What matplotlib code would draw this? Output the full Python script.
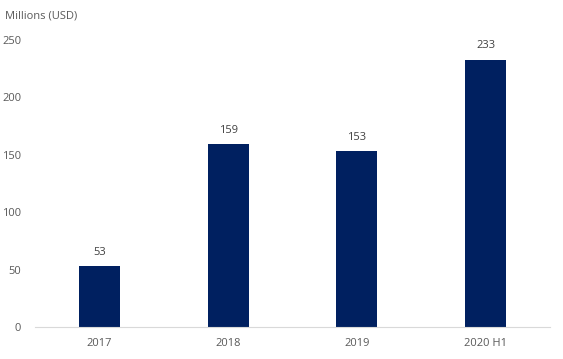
import matplotlib.pyplot as plt

categories = ["2017", "2018", "2019", "2020 H1"]
values = [53, 159, 153, 233]
yticks = [0, 50, 100, 150, 200, 250]

plt.rcParams['font.family'] = ['Open Sans', 'DejaVu Sans']

fig = plt.figure(figsize=(5.63, 3.59), dpi=100)
ax = fig.add_axes([35 / 563, 32 / 359, 515 / 563, 287 / 359])

x = range(len(categories))
bars = ax.bar(x, values, width=0.32, color="#002060", zorder=2)

for b, v in zip(bars, values):
    ax.text(b.get_x() + b.get_width() / 2, v + 7, str(v), ha="center", va="bottom",
            fontsize=8, color="#404040")

ax.set_xlim(-0.5, len(categories) - 0.5)
ax.set_ylim(0, 250)
ax.set_yticks(yticks)
ax.set_xticks(list(x))
ax.set_xticklabels(categories)
ax.tick_params(axis="both", length=0, labelsize=8, labelcolor="#595959")
ax.tick_params(axis="x", pad=8)
ax.tick_params(axis="y", pad=10)

for s in ["top", "right", "left"]:
    ax.spines[s].set_visible(False)
ax.spines["bottom"].set_color("#d9d9d9")

fig.text(5 / 563, 1 - 16 / 359, "Millions (USD)", fontsize=8, color="#595959", va="center")

fig.savefig("out.png", dpi=100)
